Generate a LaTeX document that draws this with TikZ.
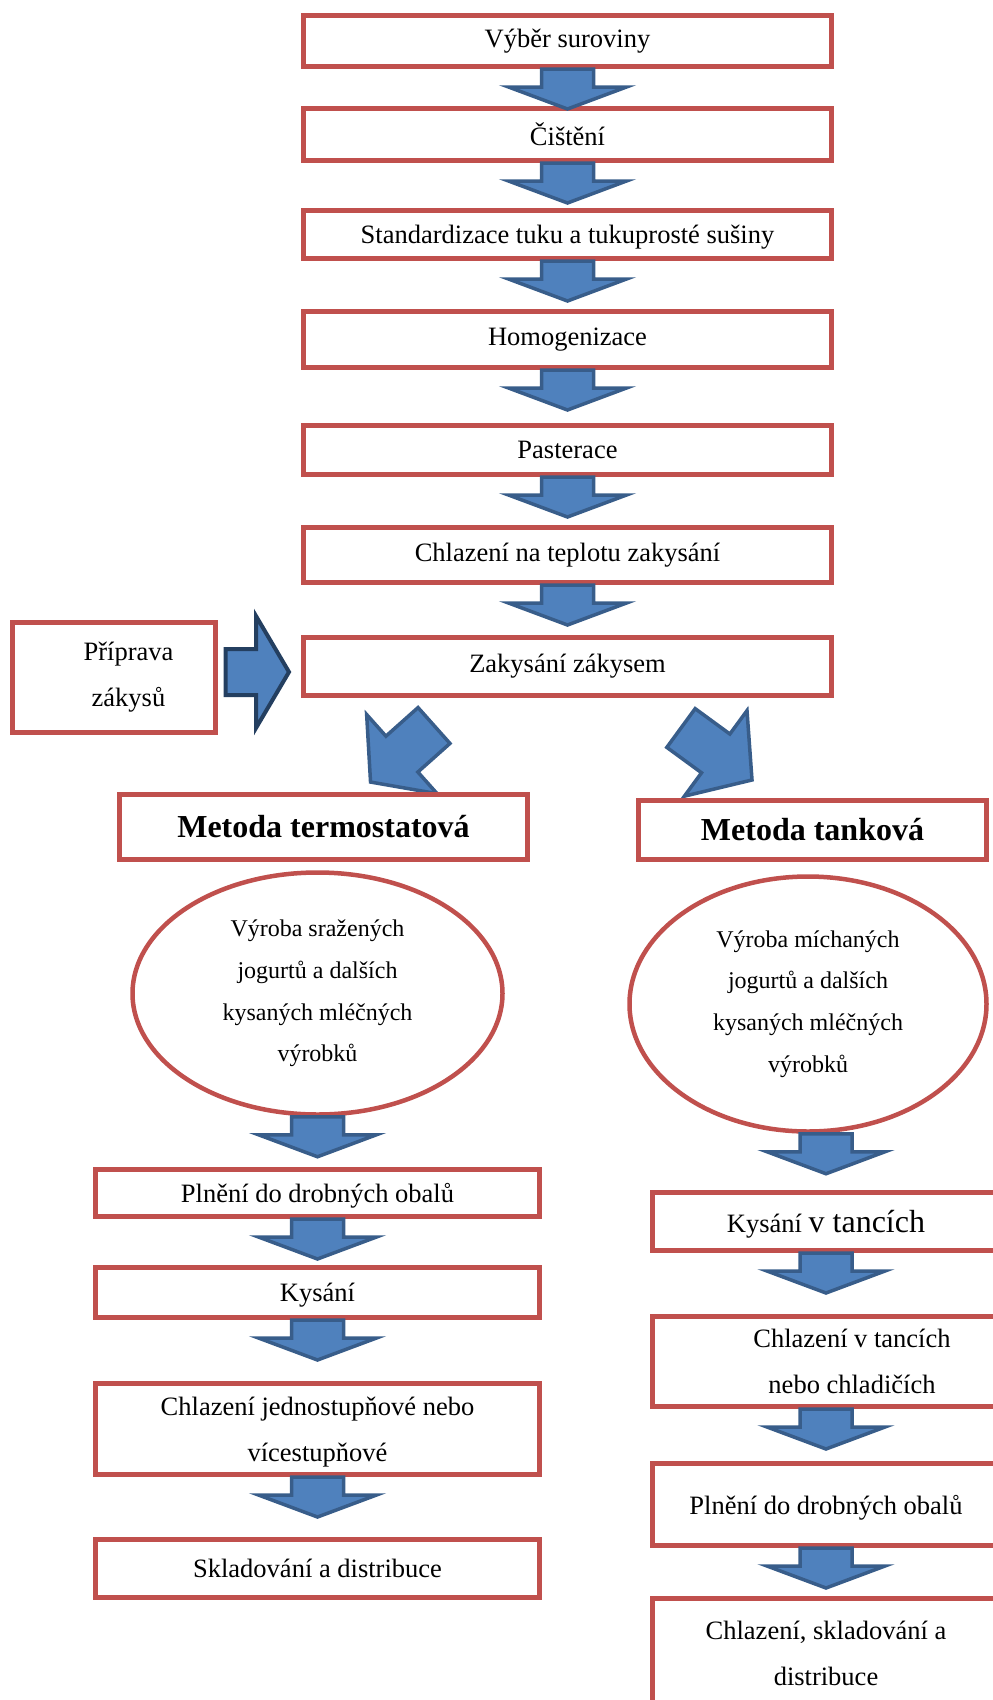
\documentclass[tikz,border=0pt]{standalone}
\usepackage{fontspec}
\setmainfont{Liberation Serif}
\usetikzlibrary{calc,shapes.geometric}
\pgfdeclarelayer{background}
\pgfsetlayers{background,main}
\definecolor{boxred}{HTML}{C0504D}
\definecolor{arrfill}{HTML}{4F81BD}
\definecolor{arrdraw}{HTML}{385D8A}
\definecolor{arrnavy}{HTML}{243F60}
\tikzset{
  procbox/.style={draw=boxred, line width=5pt, fill=white, inner sep=0pt, align=center,
    font=\fontsize{26.5}{46}\selectfont},
  lowtext/.style={text depth=0pt},
  methbox/.style={procbox, font=\fontsize{32}{40}\selectfont\bfseries},
  prodell/.style={ellipse, draw=boxred, line width=4.5pt, fill=white, inner sep=0pt, align=center,
    font=\fontsize{24}{41.7}\selectfont},
  flowarr/.style={fill=arrfill, draw=arrdraw, line width=3.5pt, line join=miter},
  sidearr/.style={fill=arrfill, draw=arrnavy, line width=4pt, line join=miter},
}
% vertical block arrow from node #1 down towards node #2
\newcommand\flowdown[2]{%
  \coordinate (fa) at (#2.north |- #1.south);
  \draw[flowarr] ($(fa)+(-26,0)$) -- ($(fa)+(26,0)$) -- ($(fa)+(26,18)$) -- ($(fa)+(59,18)$)
    -- ($(fa)+(0,40)$) -- ($(fa)+(-59,18)$) -- ($(fa)+(-26,18)$) -- cycle;}
% diagonal block arrow: tail-centre, canvas angle, length
\newcommand\diagarrow[3]{%
  \begin{scope}[shift={#1}, rotate=#2]
    \draw[flowarr] (0,-24) -- (43,-24) -- (43,-53) -- (#3,0) -- (43,53) -- (43,24) -- (0,24) -- cycle;
  \end{scope}}
\begin{document}
\begin{tikzpicture}[x=1pt,y=-1pt]
\useasboundingbox (0,0) rectangle (993,1700);
\clip (0,0) rectangle (993,1700);

% main column
\node[procbox, minimum width=528pt, minimum height=51pt] (b1) at (567.5,41) {Výběr suroviny};
\node[procbox, minimum width=528pt, minimum height=52pt] (b2) at (567.5,134.5) {Čištění};
\node[procbox, lowtext, minimum width=528pt, minimum height=48pt] (b3) at (567.5,234.5) {Standardizace tuku a tukuprosté sušiny};
\node[procbox, minimum width=528pt, minimum height=56pt] (b4) at (567.5,339.5) {Homogenizace};
\node[procbox, minimum width=528pt, minimum height=49pt] (b5) at (567.5,450) {Pasterace};
\node[procbox, minimum width=528pt, minimum height=55pt] (b6) at (567.5,555) {Chlazení na teplotu zakysání};
\node[procbox, minimum width=528pt, minimum height=58pt] (zak) at (567.5,666.5) {Zakysání zákysem};

\node[procbox, minimum width=203pt, minimum height=110pt] (prip) at (114,677.5)
  {\hspace*{29pt}Příprava\\\hspace*{29pt}zákysů};

% methods
\node[methbox, minimum width=408pt, minimum height=65pt] (term) at (323.5,827) {Metoda termostatová};
\node[methbox, minimum width=348pt, minimum height=59pt] (tank) at (812.5,830) {Metoda tanková};

\node[prodell, minimum width=370pt, minimum height=242pt] (ell) at (317.5,993.5)
  {Výroba sražených\\jogurtů a dalších\\kysaných mléčných\\výrobků};
\node[prodell, minimum width=357pt, minimum height=255pt] (elr) at (808,1004)
  {Výroba míchaných\\jogurtů a dalších\\kysaných mléčných\\výrobků};

% left column
\node[procbox, lowtext, minimum width=444pt, minimum height=47pt] (l1) at (317.5,1193) {Plnění do drobných obalů};
\node[procbox, lowtext, minimum width=444pt, minimum height=50pt] (l2) at (317.5,1292.5) {Kysání};
\node[procbox, lowtext, minimum width=444pt, minimum height=91pt] (l3) at (317.5,1429) {Chlazení jednostupňové nebo\\vícestupňové};
\node[procbox, minimum width=444pt, minimum height=58pt] (l4) at (317.5,1568.5) {Skladování a distribuce};

% right column
\node[procbox, lowtext, minimum width=347pt, minimum height=58pt] (r1) at (826,1221.5)
  {Kysání {\fontsize{32}{46}\selectfont v tancích}};
\node[procbox, lowtext, minimum width=347pt, minimum height=90pt] (r2) at (826,1361.5)
  {\hspace*{52pt}Chlazení v tancích\\\hspace*{52pt}nebo chladičích};
\node[procbox, lowtext, minimum width=347pt, minimum height=82pt] (r3) at (826,1504.5) {Plnění do drobných obalů};
\node[procbox, minimum width=347pt, minimum height=110pt] (r4) at (826,1653) {Chlazení, skladování a\\distribuce};

% vertical arrows
\flowdown{b1}{b2}
\flowdown{b2}{b3}
\flowdown{b3}{b4}
\flowdown{b4}{b5}
\flowdown{b5}{b6}
\flowdown{b6}{zak}
\flowdown{ell}{l1}
\flowdown{l1}{l2}
\flowdown{l2}{l3}
\flowdown{l3}{l4}
\flowdown{elr}{r1}
\flowdown{r1}{r2}
\flowdown{r2}{r3}
\flowdown{r3}{r4}

% side arrow Priprava -> Zakysani
\coordinate (pa) at ($(prip.east)+(7.5,-5.5)$);
\coordinate (pb) at ($(zak.west |- pa)+(-12,0)$);
\draw[sidearr] ($(pa)+(0,-23)$) -- ($(pb)+(-33,-23)$) -- ($(pb)+(-33,-56)$) -- (pb)
  -- ($(pb)+(-33,56)$) -- ($(pb)+(-33,23)$) -- ($(pa)+(0,23)$) -- cycle;

% diagonal arrows from Zakysani to the two methods
\begin{pgfonlayer}{background}
  \diagarrow{($(zak.south)+(-133.5,27.5)$)}{221.7}{85}
  \diagarrow{($(zak.south)+(113.5,30)$)}{-36.2}{88}
\end{pgfonlayer}
\end{tikzpicture}
\end{document}
